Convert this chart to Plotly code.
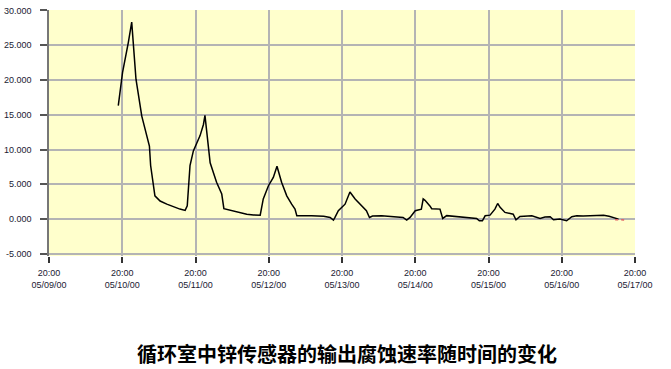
import plotly.graph_objects as go

# hours after 05/09/00 20:00
hours = [22.7, 24.1, 26.0, 27.1, 28.5, 30.4, 32.9, 33.3, 34.7, 36.4, 38.6, 40.5, 42.9, 44.6, 45.3,
         46.2, 47.3, 49.5, 50.6, 51.1, 51.4, 52.8, 54.9, 56.6, 57.3, 59.3, 62.0, 64.8, 67.0, 69.2,
         70.2, 71.9, 73.5, 74.7, 76.2, 77.9, 79.5, 80.6, 81.2, 84.0, 86.0, 88.0, 90.0, 92.1, 93.2,
         93.7, 94.8, 97.0, 98.2, 98.6, 100.3, 102.5, 104.0, 105.0, 106.0, 109.0, 112.0, 116.0, 117.2,
         118.3, 120.0, 122.0, 122.6, 123.2, 124.8, 125.4, 128.1, 129.0, 130.3, 132.5, 136.0, 140.1,
         141.0, 142.0, 142.9, 144.5, 146.1, 147.0, 147.8, 149.4, 152.1, 153.0, 154.3, 156.0, 158.2,
         160.9, 162.5, 164.2, 165.3, 167.4, 169.6, 171.3, 172.9, 175.0, 178.4, 181.7, 183.5, 185.0,
         186.6]
rate = [16.3, 21.1, 25.4, 28.3, 20.1, 14.8, 10.5, 7.7, 3.35, 2.6, 2.15, 1.8, 1.44, 1.25, 1.9,
        7.7, 9.8, 12.0, 13.6, 14.9, 13.6, 8.1, 5.3, 3.6, 1.5, 1.3, 1.0, 0.7, 0.6, 0.57,
        2.9, 4.8, 6.0, 7.6, 5.3, 3.35, 2.15, 1.44, 0.48, 0.55, 0.5, 0.45, 0.4, 0.24, -0.14,
        0.24, 1.2, 2.15, 3.5, 3.9, 2.9, 1.9, 1.2, 0.24, 0.45, 0.5, 0.4, 0.24, -0.14,
        0.24, 1.2, 1.44, 2.9, 2.7, 1.9, 1.5, 1.44, 0.1, 0.5, 0.4, 0.35, 0.1,
        -0.24, -0.24, 0.48, 0.57, 1.44, 2.25, 1.7, 0.96, 0.7, -0.1, 0.38, 0.45, 0.48,
        0.1, 0.3, 0.34, -0.1, 0.0, -0.24, 0.34, 0.48, 0.45, 0.48, 0.57, 0.4, 0.24,
        0.0]

red_hours = [185.5, 186.5, 187.5, 188.8]
red_rate = [-0.1, -0.15, -0.1, -0.15]

tick_hours = [0, 24, 48, 72, 96, 120, 144, 168, 192]
tick_text = ["20:00<br>05/09/00", "20:00<br>05/10/00", "20:00<br>05/11/00", "20:00<br>05/12/00",
             "20:00<br>05/13/00", "20:00<br>05/14/00", "20:00<br>05/15/00", "20:00<br>05/16/00",
             "20:00<br>05/17/00"]
y_ticks = [-5, 0, 5, 10, 15, 20, 25, 30]
y_text = ["-5.000", "0.000", "5.000", "10.000", "15.000", "20.000", "25.000", "30.000"]

title = "循环室中锌传感器的输出腐蚀速率随时间的变化"

fig = go.Figure()
fig.add_trace(go.Scatter(x=hours, y=rate, mode="lines",
                         line=dict(color="black", width=1.5), showlegend=False))
fig.add_trace(go.Scatter(x=red_hours, y=red_rate, mode="lines",
                         line=dict(color="#e06060", width=1.5, dash="dot"), showlegend=False))

fig.update_layout(
    width=671, height=369,
    margin=dict(l=49, r=36, t=10, b=113),
    paper_bgcolor="white",
    plot_bgcolor="#FFFFCC",
    font=dict(family="Liberation Sans", size=9, color="#1a1a33"),
    annotations=[dict(text="<b>" + title + "</b>", x=0.509, xref="paper",
                      y=-97 / 246, yref="paper", yanchor="middle",
                      showarrow=False,
                      font=dict(family="Noto Sans CJK SC", size=20, color="black"))],
)

fig.update_xaxes(range=[0, 192], tickvals=tick_hours, ticktext=tick_text, automargin=False,
                 showgrid=True, gridcolor="#b4b4b4", gridwidth=2,
                 ticks="outside", ticklen=6, tickcolor="#333333", tickwidth=1.5,
                 showline=False, zeroline=False, ticklabelstandoff=2)
fig.update_yaxes(range=[-5.3, 30.05], tickvals=y_ticks, ticktext=y_text, automargin=False,
                 showgrid=True, gridcolor="#b4b4b4", gridwidth=2,
                 ticks="outside", ticklen=7, tickcolor="#555555", tickwidth=1.5,
                 showline=True, linecolor="#777777", linewidth=1.5,
                 zeroline=False, ticklabelstandoff=7)

fig.write_html("out.html", config={"displayModeBar": False},
               post_script="document.body.style.margin='0';document.body.style.padding='0';")
